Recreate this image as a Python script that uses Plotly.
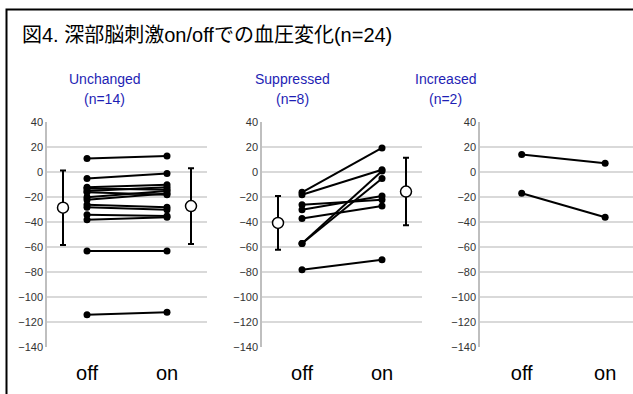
import plotly.graph_objects as go

W, H = 633, 394

# ---- data ----
categories = ["off", "on"]
panel_titles = ["Unchanged", "Suppressed", "Increased"]
panel_counts = ["(n=14)", "(n=8)", "(n=2)"]

unchanged_off = [11, -5, -12, -13, -15, -16, -20, -22, -26, -28, -34, -38, -63, -114]
unchanged_on = [13, -1, -10, -14, -12, -18, -15, -17, -28, -30, -35, -36, -63, -112]

suppressed_off = [-16, -18, -26, -30, -37, -57, -57, -78]
suppressed_on = [19.5, 2, -22, -19, -27, 1, -5, -70]

increased_off = [14.3, -16.8]
increased_on = [7.3, -36]

unchanged_mean = [-28.3, -27.0]
unchanged_sd = [29.8, 30.3]
suppressed_mean = [-40.5, -15.4]
suppressed_sd = [21.5, 27.0]

y_ticks = [40, 20, 0, -20, -40, -60, -80, -100, -120, -140]

# ---- layout geometry (pixels) ----
px_domains = [(47, 207), (262, 422), (480, 633)]
y_top, y_bot = 122.3, 347.3
x_pos = [0.25, 0.75]      # off / on
mean_pos = [0.1, 0.9]
x_ranges = [[0, 1], [0, 1], [0, 0.917]]

fig = go.Figure()

panels = [
    (unchanged_off, unchanged_on, unchanged_mean, unchanged_sd),
    (suppressed_off, suppressed_on, suppressed_mean, suppressed_sd),
    (increased_off, increased_on, None, None),
]

for i, (off, on, mean, sd) in enumerate(panels):
    xa = "x" if i == 0 else f"x{i+1}"
    ya = "y" if i == 0 else f"y{i+1}"
    for a, b in zip(off, on):
        fig.add_trace(go.Scatter(
            x=x_pos, y=[a, b], mode="lines+markers",
            line=dict(color="black", width=2),
            marker=dict(color="black", size=7),
            xaxis=xa, yaxis=ya, showlegend=False, hoverinfo="skip"))
    if mean is not None:
        fig.add_trace(go.Scatter(
            x=mean_pos, y=mean, mode="markers",
            marker=dict(color="white", size=11, line=dict(color="black", width=1.5)),
            error_y=dict(type="data", array=sd, visible=True, color="black",
                         thickness=2, width=3),
            xaxis=xa, yaxis=ya, showlegend=False, hoverinfo="skip"))

layout = dict(
    width=W, height=H, autosize=False,
    margin=dict(l=0, r=0, t=0, b=0),
    paper_bgcolor="white", plot_bgcolor="white",
    font=dict(family="Liberation Sans, Arial, Noto Sans CJK JP", color="black"),
)

for i, (x0, x1) in enumerate(px_domains):
    sfx = "" if i == 0 else str(i + 1)
    layout[f"xaxis{sfx}"] = dict(
        domain=[x0 / W, x1 / W], range=x_ranges[i],
        tickmode="array", tickvals=x_pos, ticktext=categories,
        tickfont=dict(size=20, color="black"),
        showgrid=False, zeroline=False, showline=False,
        ticks="", ticklabelstandoff=12, automargin=False,
        anchor="y" + sfx, fixedrange=True)
    layout[f"yaxis{sfx}"] = dict(
        domain=[1 - y_bot / H, 1 - y_top / H], range=[-140, 40],
        tickmode="array", tickvals=y_ticks,
        tickfont=dict(size=11, color="#333333"),
        showgrid=True, gridcolor="#d9d9d9", gridwidth=1.5,
        zeroline=False, showline=True, linecolor="#bfbfbf", linewidth=1.5,
        ticks="", automargin=False, anchor="x" + sfx, fixedrange=True)

fig.update_layout(**layout)

# title
fig.add_annotation(
    text="図4. 深部脳刺激on/offでの血圧変化(n=24)",
    xref="paper", yref="paper", x=20 / W, y=1 - 35 / H,
    xanchor="left", yanchor="middle", showarrow=False,
    font=dict(size=20, color="black",
              family="Liberation Sans, Arial, Noto Sans CJK JP"))

# panel subtitles
sub_centers = [104.5, 292.5, 445]
for cx, t, n in zip(sub_centers, panel_titles, panel_counts):
    for txt, yy in [(t, 79), (n, 99)]:
        fig.add_annotation(
            text=txt, xref="paper", yref="paper", x=cx / W, y=1 - yy / H,
            xanchor="center", yanchor="middle", showarrow=False,
            font=dict(size=14, color="#1e1eb4"))

# outer frame (extends beyond right and bottom edges)
fig.add_shape(type="rect", xref="paper", yref="paper",
              x0=6.5 / W, x1=1.05, y0=-0.05, y1=1 - 9.5 / H,
              line=dict(color="black", width=2), fillcolor="rgba(0,0,0,0)")

fig.write_html("out.html",
               config={"displayModeBar": False, "responsive": False},
               post_script="document.body.style.margin='0';document.body.style.overflow='hidden';")
